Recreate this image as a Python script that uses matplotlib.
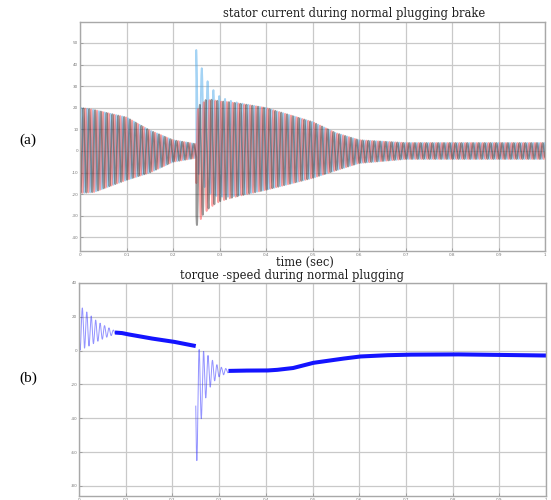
import numpy as np
import matplotlib
matplotlib.use("Agg")
import matplotlib.pyplot as plt

# ---- stator current: envelope knots (A) per segment ----
cur_t = [0.0, 0.03, 0.06, 0.1, 0.15, 0.2, 0.249, 0.25, 0.27, 0.3, 0.4, 0.5, 0.55, 0.6, 0.7, 1.0]
cur_upper = [20.0, 19.0, 17.5, 15.5, 9.5, 5.0, 3.2, 27.0, 26.5, 23.6, 19.9, 13.4, 8.3, 5.0, 3.7, 3.7]
cur_lower = [-19.5, -19.0, -16.6, -13.4, -10.0, -5.0, -3.2, -27.0, -25.0, -22.7, -18.0, -12.5, -9.0, -5.6, -3.7, -3.7]
# DC transient of each phase right after plugging (peak offset, A)
phase_names = ["b", "a", "c"]
phase_colors = ["#4aa8ea", "#ff4a4a", "#333333"]
plug_offsets = [21.0, -9.0, -8.0]
phase_index = [0, 2, 1]

# ---- torque: upper / lower envelope knots (N.m) ----
trq_t = [0.0, 0.02, 0.04, 0.06, 0.08, 0.09, 0.1, 0.15, 0.2, 0.249,
         0.25, 0.26, 0.27, 0.28, 0.29, 0.3, 0.32, 0.35, 0.4, 0.42,
         0.457, 0.5, 0.55, 0.6, 0.65, 0.7, 0.8, 0.9, 1.0]
trq_upper = [27.0, 22.0, 17.0, 14.0, 11.3, 10.8, 10.3, 7.8, 5.8, 3.1,
             1.0, 0.5, -1.0, -4.0, -7.0, -9.5, -11.0, -11.4, -11.5, -11.2,
             -10.0, -6.9, -4.9, -3.1, -2.4, -2.0, -1.8, -2.1, -2.5]
trq_lower = [0.0, 2.5, 5.5, 8.0, 10.0, 10.2, 9.5, 7.0, 5.0, 2.3,
             -72.0, -43.0, -29.0, -22.0, -18.0, -15.5, -13.0, -12.2, -12.1, -11.8,
             -10.8, -7.7, -5.7, -3.9, -3.2, -2.8, -2.6, -2.9, -3.3]

f_supply = 80.0
f_torque = 105.0
t_plug = 0.25

t = np.linspace(0.0, 1.0, 30000)
after = t >= t_plug
pre = ~after

fig = plt.figure(figsize=(5.51, 5.0), dpi=100)

serif = "DejaVu Serif"
grid_kw = dict(color="#c9c9c9", linewidth=0.9)


def style_axes(ax, yticks):
    ax.set_xlim(0, 1)
    ax.set_xticks(np.arange(0, 1.01, 0.1))
    ax.set_xticklabels(["0"] + [f"{v:.1f}" for v in np.arange(0.1, 0.91, 0.1)] + ["1"])
    ax.set_yticks(yticks)
    ax.set_yticklabels([str(v) for v in yticks])
    ax.grid(True, **grid_kw)
    ax.set_axisbelow(True)
    for s in ax.spines.values():
        s.set_color("#a8a8a8")
        s.set_linewidth(1.0)
    ax.tick_params(direction="in", length=2.5, width=0.6, color="#999999",
                   labelsize=3.0, labelcolor="#777777", pad=1.2)


# ---------------- (a) stator current ----------------
ax1 = fig.add_axes([80 / 551, 1 - 251 / 500, 465 / 551, 229 / 500])
up = np.interp(t, cur_t, cur_upper)
lo = np.interp(t, cur_t, cur_lower)
# hold the pre-plug envelope up to the plug instant
up[pre] = np.interp(t[pre], cur_t[:7], cur_upper[:7])
lo[pre] = np.interp(t[pre], cur_t[:7], cur_lower[:7])
mid = (up + lo) / 2
amp = (up - lo) / 2
for name, col, off, k in zip(phase_names, phase_colors, plug_offsets, phase_index):
    shift = -2 * np.pi * k / 3
    # phase sequence reversed at plugging
    ph = np.where(after, 2 * np.pi * f_supply * (t - t_plug) + np.pi / 2 - shift + 0.3,
                  2 * np.pi * f_supply * t + shift)
    dc = np.where(after, off * np.exp(-(t - t_plug) / 0.02), 0.0)
    i_k = mid + amp * np.sin(ph) + dc
    ax1.plot(t, i_k, color=col, linewidth=1.3, alpha=0.5)
ax1.set_ylim(-46.3, 59.7)
style_axes(ax1, list(range(-40, 51, 10)))

# ---------------- (b) torque ----------------
ax2 = fig.add_axes([79 / 551, 1 - 496 / 500, 467 / 551, 213 / 500])
tu = np.interp(t, trq_t, trq_upper)
tl = np.interp(t, trq_t, trq_lower)
tu[pre] = np.interp(t[pre], trq_t[:10], trq_upper[:10])
tl[pre] = np.interp(t[pre], trq_t[:10], trq_lower[:10])
tmid = (tu + tl) / 2
thalf = (tu - tl) / 2
tph = np.where(after, 2 * np.pi * f_torque * (t - t_plug - 0.0025) + np.pi,
               2 * np.pi * f_torque * t + np.pi / 2)
torque = tmid + thalf * np.cos(tph)
settled = thalf < 1.0
osc = np.where(settled, np.nan, torque)
ax2.plot(t, osc, color="#3a3aff", linewidth=0.7, alpha=0.55)
ax2.plot(t, np.where(settled, tmid, np.nan), color="#1414ff", linewidth=2.9,
         solid_capstyle="butt")
ax2.set_ylim(-86, 40)
style_axes(ax2, list(range(-80, 41, 20)))

# ---------------- text ----------------
tkw = dict(family=serif, fontsize=8.3, ha="center", va="center", color="#1e1e1e")
fig.text(354 / 551, 1 - 14 / 500, "stator current during normal plugging brake", **tkw)
fig.text(305 / 551, 1 - 262 / 500, "time (sec)", **tkw)
fig.text(292 / 551, 1 - 275 / 500, "torque -speed during normal plugging", **tkw)
fig.text(28 / 551, 1 - 140 / 500, "(a)", family="Liberation Serif", fontsize=11,
         ha="center", va="center", color="black")
fig.text(28 / 551, 1 - 378 / 500, "(b)", family="Liberation Serif", fontsize=11,
         ha="center", va="center", color="black")

fig.savefig("out.png", dpi=100)
